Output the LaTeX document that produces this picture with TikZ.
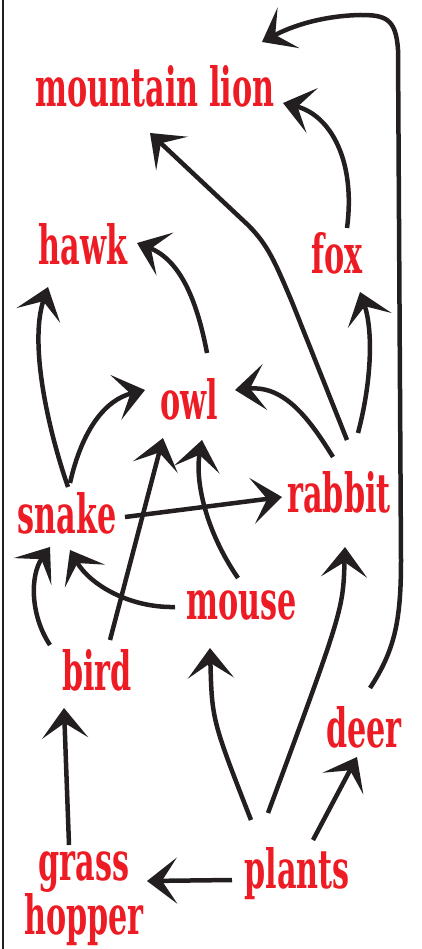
\documentclass[tikz,border=0pt]{standalone}
\usepackage{fontspec}
\setmainfont{DejaVu Serif}[FakeStretch=0.56]
\usetikzlibrary{arrows.meta}
\definecolor{foodred}{HTML}{ED1C24}
\definecolor{ink}{HTML}{231F20}

\begin{document}
\begin{tikzpicture}[y=-1pt, x=1pt]
	\tikzstyle{every node}=[font=\fontsize{54}{47}\selectfont\bfseries, text=foodred, inner sep=0, anchor=base]
	\tikzstyle{feeds}=[draw=ink, line width=4.5pt, -{Stealth[length=30pt, width=46pt, inset=15pt]}]

	\useasboundingbox (0,0) rectangle (421,949);

	%frame
	\draw[ink, line width=1.5pt] (3,0) -- (3,949);

	%animals
	\node (lion) at (155,107) {mountain lion};
	\node (hawk) at (83,265) {hawk};
	\node (fox) at (337,273) {fox};
	\node (owl) at (189,419) {owl};
	\node (snake) at (67,533) {snake};
	\node (rabbit) at (339,512) {rabbit};
	\node (mouse) at (242,619) {mouse};
	\node (bird) at (97,690) {bird};
	\node (deer) at (364,747) {deer};
	\node[align=center, anchor=center] (hopper) at (84,899) {grass\\hopper};
	\node (plants) at (297,888) {plants};

	%arrows
	\draw[feeds] ([shift={(-65,-8)}]plants.base) -- ([shift={(63,-18)}]hopper.center);
	\draw[feeds] ([shift={(-15,-54)}]hopper.center) -- ([shift={(-33,18)}]bird.base);
	\draw[feeds] ([shift={(-46,-68)}]plants.base) .. controls (212,720) .. ([shift={(-32,29)}]mouse.base);
	\draw[feeds] ([shift={(-29,-75)}]plants.base) .. controls (343,610) .. ([shift={(6,35)}]rabbit.base);
	\draw[feeds] ([shift={(16,-48)}]plants.base) -- ([shift={(-7,10)}]deer.base);
	\draw[feeds] ([shift={(6,-59)}]deer.base) .. controls (395,650) and (401,620) .. (401,560) -- (398,50)
		.. controls (396,18) and (385,15) .. (360,15) .. controls (320,16) and (290,27) .. ([shift={(107,-65)}]lion.base);
	\draw[feeds] ([shift={(10,-45)}]fox.base) .. controls (356,160) and (330,115) .. ([shift={(128,-4)}]lion.base);
	\draw[feeds] ([shift={(8,-72)}]rabbit.base) -- (292,302) .. controls (275,262) and (268,245) .. (248,225) -- ([shift={(-5,26)}]lion.base);
	\draw[feeds] ([shift={(19,-79)}]rabbit.base) .. controls (372,380) and (373,330) .. ([shift={(23,19)}]fox.base);
	\draw[feeds] ([shift={(-6,-55)}]rabbit.base) .. controls (310,420) and (285,385) .. ([shift={(46,-29)}]owl.base);
	\draw[feeds] ([shift={(18,-66)}]owl.base) .. controls (197,300) and (180,260) .. ([shift={(54,-22)}]hawk.base);
	\draw[feeds] ([shift={(1,-46)}]snake.base) .. controls (45,420) and (30,340) .. ([shift={(-35,22)}]hawk.base);
	\draw[feeds] ([shift={(3,-50)}]snake.base) .. controls (82,430) and (105,400) .. ([shift={(-44,-29)}]owl.base);
	\draw[feeds] ([shift={(58,-16)}]snake.base) -- ([shift={(-57,-15)}]rabbit.base);
	\draw[feeds] ([shift={(13,-50)}]bird.base) -- ([shift={(-26,19)}]owl.base);
	\draw[feeds] ([shift={(-47,-45)}]bird.base) .. controls (30,615) and (30,575) .. ([shift={(-17,14)}]snake.base);
	\draw[feeds] ([shift={(-67,-12)}]mouse.base) .. controls (130,608) and (90,585) .. ([shift={(3,17)}]snake.base);
	\draw[feeds] ([shift={(-4,-41)}]mouse.base) .. controls (205,530) and (195,480) .. ([shift={(13,21)}]owl.base);
\end{tikzpicture}
\end{document}
